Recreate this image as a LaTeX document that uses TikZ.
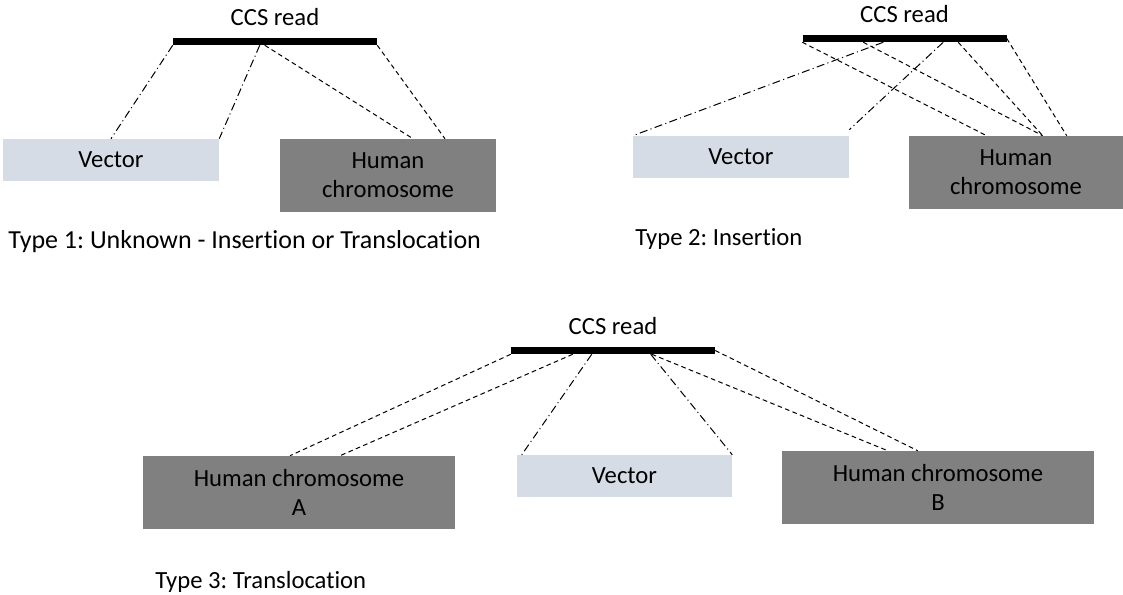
\documentclass[tikz,border=0pt]{standalone}
\usepackage{fontspec}
\setmainfont{Carlito}[Ligatures=NoCommon]
\usetikzlibrary{calc}
\definecolor{vecfill}{RGB}{214,220,229}
\definecolor{humfill}{RGB}{128,128,128}
\frenchspacing
\begin{document}
\begin{tikzpicture}[x=.75pt,y=-.75pt,line join=round,
	txt/.style={font=\fontsize{18.5}{22}\selectfont,inner sep=0pt},
	read/.style={fill=black,inner sep=0pt,minimum width=153pt,minimum height=5.25pt},
	vec/.style={txt,fill=vecfill,minimum width=162pt,minimum height=31.5pt,align=center},
	hum/.style={txt,fill=humfill,minimum width=162pt,minimum height=54.75pt,align=center},
	ds/.style={line width=.75pt,dash pattern=on 3.5pt off 2.5pt},
	dd/.style={line width=.75pt,dash pattern=on 6pt off 2.5pt on .8pt off 2.5pt}]
	\useasboundingbox (0,0) rectangle (1123,595);
	\foreach \n/\x/\y in {1/275/41.5,2/904.5/38.5,3/613/350.5}{
		\node[read] (bar\n) at (\x,\y) {};
		\node[txt,anchor=base] (ccs\n) at ($(bar\n.north)+(0,-12)$) {CCS read};
	}
	\node[vec] (vec1) at (111,160) {Vector};
	\node[hum] (hum1) at (388,175.5) {Human\\chromosome};
	\node[vec] (vec2) at (741,157) {Vector};
	\node[hum,minimum width=160.5pt] (hum2) at (1016,172.5) {Human\\chromosome};
	\node[hum,minimum width=234pt] (humA) at (299,492.5) {Human chromosome\\A};
	\node[vec,minimum width=161.25pt] (vec3) at (624.5,476) {Vector};
	\node[hum,minimum width=234pt] (humB) at (938,487.5) {Human chromosome\\B};
	\node[txt,font=\fontsize{19.5}{22}\selectfont,anchor=base west] (cap1) at (8,248) {Type 1: Unknown - Insertion or Translocation};
	\node[txt,anchor=base west] (cap2) at (635,245) {Type 2: Insertion};
	\node[txt,anchor=base west] (cap3) at (155,588) {Type 3: Translocation};
	% type 1
	\draw[dd] (bar1.south west) -- (vec1.north);
	\draw[dd] ($(bar1.south west)+(87,0)$) -- (vec1.north east);
	\draw[ds] ($(bar1.south west)+(92,0)$) -- ($(hum1.north)+(25,0)$);
	\draw[ds] (bar1.south east) -- ($(hum1.north)+(57,0)$);
	% type 2
	\draw[ds] (bar2.south west) -- ($(hum2.north west)+(78,0)$);
	\draw[dd] ($(bar2.south west)+(81,0)$) -- (vec2.north west);
	\draw[ds] ($(bar2.south west)+(61,0)$) -- ($(hum2.north west)+(134,0)$);
	\draw[dd] ($(bar2.south west)+(141,0)$) -- ($(vec2.north east)+(0,-6)$);
	\draw[ds] ($(bar2.south west)+(156,0)$) -- ($(hum2.north west)+(134,0)$);
	\draw[ds] (bar2.east) -- ($(hum2.north west)+(158,0)$);
	% type 3
	\draw[ds] (bar3.south west) -- ($(humA.north)+(-9,0)$);
	\draw[ds] ($(bar3.south west)+(62,0)$) -- ($(humA.north)+(41,0)$);
	\draw[dd] ($(bar3.south west)+(81,0)$) -- ($(vec3.north west)+(5,0)$);
	\draw[dd] ($(bar3.south west)+(140,0)$) -- (vec3.north east);
	\draw[ds] ($(bar3.south west)+(141,0)$) -- ($(humB.north west)+(106,0)$);
	\draw[ds] (bar3.east) -- ($(humB.north west)+(136,0)$);
\end{tikzpicture}
\end{document}
